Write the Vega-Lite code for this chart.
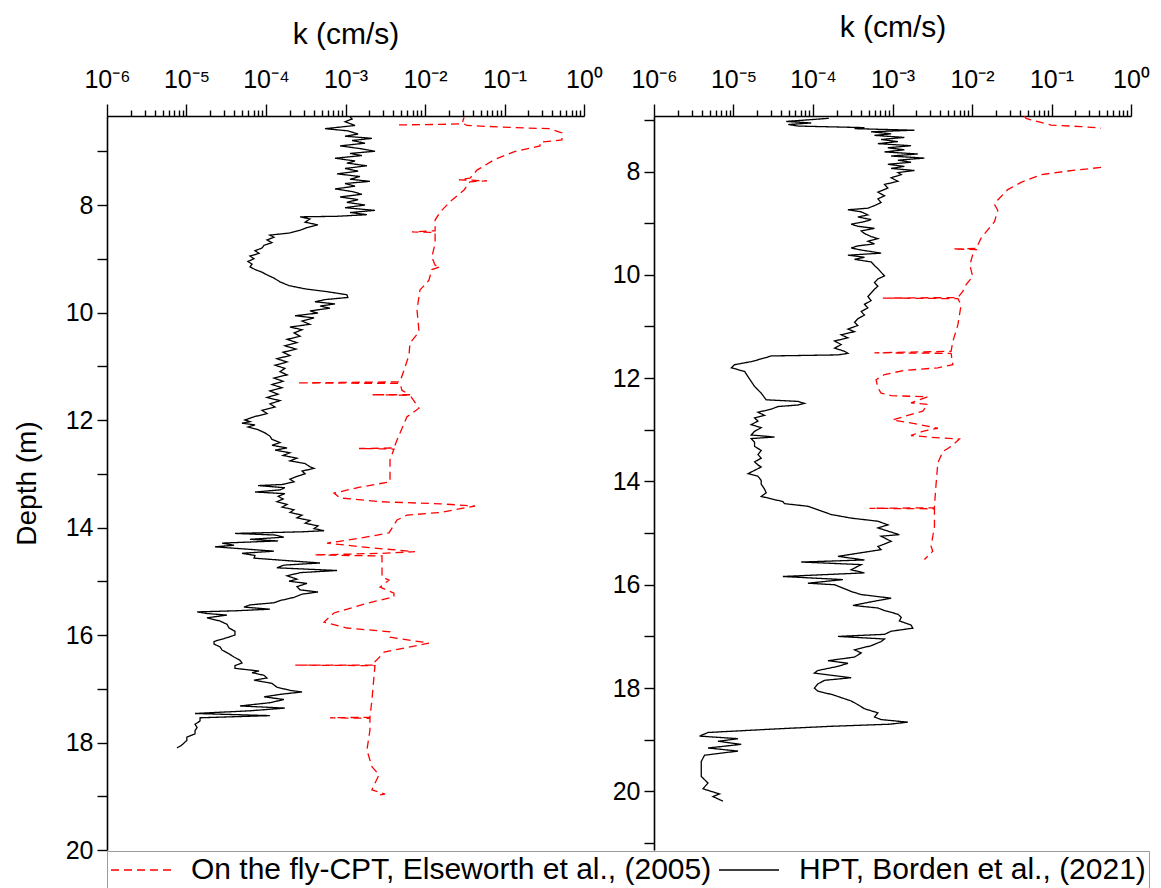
{
  "$schema": "https://vega.github.io/schema/vega-lite/v6.json",
  "background": "white",
  "padding": {"left": 13, "top": 12, "right": 5, "bottom": 0},
  "config": {
    "font": "Liberation Sans",
    "view": {"stroke": null},
    "axis": {"grid": false, "domainColor": "black", "tickColor": "black", "labelColor": "black", "titleColor": "black", "domainWidth": 1.6, "tickWidth": 1.4, "titleFontWeight": "normal", "labelFont": "Liberation Sans", "titleFont": "Liberation Sans"},
    "legend": {"orient": "bottom", "direction": "horizontal", "strokeColor": "#9a9a9a", "padding": 3, "offset": -12, "symbolType": "M-2,0H2", "symbolSize": 900, "symbolOffset": 15, "symbolStrokeWidth": 1.5, "labelFontSize": 30, "labelLimit": 900, "labelOffset": 34, "columnPadding": 4, "labelColor": "black", "labelFont": "Liberation Sans"}
  },
  "data": {"values": [
    {"p":"L","s":"H","d":6.36,"k":1.14e-3},{"p":"L","s":"H","d":6.40,"k":1.21e-3},{"p":"L","s":"H","d":6.45,"k":9.86e-4},{"p":"L","s":"H","d":6.52,"k":1.32e-3},{"p":"L","s":"H","d":6.58,"k":5.52e-4},{"p":"L","s":"H","d":6.62,"k":1.07e-3},{"p":"L","s":"H","d":6.68,"k":1.44e-3},{"p":"L","s":"H","d":6.72,"k":9.86e-4},{"p":"L","s":"H","d":6.76,"k":2.15e-3},{"p":"L","s":"H","d":6.80,"k":1.21e-3},{"p":"L","s":"H","d":6.85,"k":1.76e-3},{"p":"L","s":"H","d":6.90,"k":8.53e-4},{"p":"L","s":"H","d":6.95,"k":1.52e-3},{"p":"L","s":"H","d":7.00,"k":2.35e-3},{"p":"L","s":"H","d":7.04,"k":1.14e-3},{"p":"L","s":"H","d":7.08,"k":1.61e-3},{"p":"L","s":"H","d":7.13,"k":7.38e-4},{"p":"L","s":"H","d":7.18,"k":1.32e-3},{"p":"L","s":"H","d":7.22,"k":1.04e-3},{"p":"L","s":"H","d":7.27,"k":1.86e-3},{"p":"L","s":"H","d":7.32,"k":9.86e-4},{"p":"L","s":"H","d":7.37,"k":1.44e-3},{"p":"L","s":"H","d":7.42,"k":7.82e-4},{"p":"L","s":"H","d":7.47,"k":1.52e-3},{"p":"L","s":"H","d":7.52,"k":1.14e-3},{"p":"L","s":"H","d":7.56,"k":2.03e-3},{"p":"L","s":"H","d":7.60,"k":9.86e-4},{"p":"L","s":"H","d":7.65,"k":1.32e-3},{"p":"L","s":"H","d":7.70,"k":7.38e-4},{"p":"L","s":"H","d":7.75,"k":1.21e-3},{"p":"L","s":"H","d":7.80,"k":1.61e-3},{"p":"L","s":"H","d":7.85,"k":8.53e-4},{"p":"L","s":"H","d":7.90,"k":1.44e-3},{"p":"L","s":"H","d":7.95,"k":1.04e-3},{"p":"L","s":"H","d":8.00,"k":1.76e-3},{"p":"L","s":"H","d":8.05,"k":9.86e-4},{"p":"L","s":"H","d":8.10,"k":2.35e-3},{"p":"L","s":"H","d":8.14,"k":1.14e-3},{"p":"L","s":"H","d":8.18,"k":1.86e-3},{"p":"L","s":"H","d":8.21,"k":7.82e-4},{"p":"L","s":"H","d":8.22,"k":2.68e-4},{"p":"L","s":"H","d":8.26,"k":3.57e-4},{"p":"L","s":"H","d":8.32,"k":3.10e-4},{"p":"L","s":"H","d":8.37,"k":4.51e-4},{"p":"L","s":"H","d":8.42,"k":3.28e-4},{"p":"L","s":"H","d":8.47,"k":2.68e-4},{"p":"L","s":"H","d":8.52,"k":2.00e-4},{"p":"L","s":"H","d":8.56,"k":1.12e-4},{"p":"L","s":"H","d":8.60,"k":1.26e-4},{"p":"L","s":"H","d":8.65,"k":1.03e-4},{"p":"L","s":"H","d":8.70,"k":1.19e-4},{"p":"L","s":"H","d":8.75,"k":9.44e-5},{"p":"L","s":"H","d":8.80,"k":8.91e-5},{"p":"L","s":"H","d":8.85,"k":7.27e-5},{"p":"L","s":"H","d":8.90,"k":8.17e-5},{"p":"L","s":"H","d":8.95,"k":6.29e-5},{"p":"L","s":"H","d":9.00,"k":7.06e-5},{"p":"L","s":"H","d":9.05,"k":5.94e-5},{"p":"L","s":"H","d":9.10,"k":6.67e-5},{"p":"L","s":"H","d":9.15,"k":6.29e-5},{"p":"L","s":"H","d":9.20,"k":7.27e-5},{"p":"L","s":"H","d":9.25,"k":8.91e-5},{"p":"L","s":"H","d":9.30,"k":1.03e-4},{"p":"L","s":"H","d":9.36,"k":1.26e-4},{"p":"L","s":"H","d":9.43,"k":1.50e-4},{"p":"L","s":"H","d":9.50,"k":1.95e-4},{"p":"L","s":"H","d":9.56,"k":3.10e-4},{"p":"L","s":"H","d":9.62,"k":6.38e-4},{"p":"L","s":"H","d":9.67,"k":1.04e-3},{"p":"L","s":"H","d":9.72,"k":1.07e-3},{"p":"L","s":"H","d":9.76,"k":5.52e-4},{"p":"L","s":"H","d":9.80,"k":4.13e-4},{"p":"L","s":"H","d":9.84,"k":7.38e-4},{"p":"L","s":"H","d":9.88,"k":4.78e-4},{"p":"L","s":"H","d":9.92,"k":6.38e-4},{"p":"L","s":"H","d":9.97,"k":3.57e-4},{"p":"L","s":"H","d":10.01,"k":4.51e-4},{"p":"L","s":"H","d":10.06,"k":2.32e-4},{"p":"L","s":"H","d":10.10,"k":4.02e-4},{"p":"L","s":"H","d":10.16,"k":2.84e-4},{"p":"L","s":"H","d":10.22,"k":3.57e-4},{"p":"L","s":"H","d":10.27,"k":2.00e-4},{"p":"L","s":"H","d":10.32,"k":2.84e-4},{"p":"L","s":"H","d":10.38,"k":2.25e-4},{"p":"L","s":"H","d":10.44,"k":2.68e-4},{"p":"L","s":"H","d":10.50,"k":1.84e-4},{"p":"L","s":"H","d":10.56,"k":2.45e-4},{"p":"L","s":"H","d":10.62,"k":1.73e-4},{"p":"L","s":"H","d":10.68,"k":2.38e-4},{"p":"L","s":"H","d":10.74,"k":1.64e-4},{"p":"L","s":"H","d":10.80,"k":2.00e-4},{"p":"L","s":"H","d":10.86,"k":1.37e-4},{"p":"L","s":"H","d":10.92,"k":1.84e-4},{"p":"L","s":"H","d":10.98,"k":1.30e-4},{"p":"L","s":"H","d":11.04,"k":1.73e-4},{"p":"L","s":"H","d":11.10,"k":1.50e-4},{"p":"L","s":"H","d":11.16,"k":1.84e-4},{"p":"L","s":"H","d":11.22,"k":1.26e-4},{"p":"L","s":"H","d":11.28,"k":1.64e-4},{"p":"L","s":"H","d":11.34,"k":1.19e-4},{"p":"L","s":"H","d":11.40,"k":1.59e-4},{"p":"L","s":"H","d":11.46,"k":1.12e-4},{"p":"L","s":"H","d":11.52,"k":1.42e-4},{"p":"L","s":"H","d":11.58,"k":1.03e-4},{"p":"L","s":"H","d":11.64,"k":1.50e-4},{"p":"L","s":"H","d":11.70,"k":1.12e-4},{"p":"L","s":"H","d":11.76,"k":1.30e-4},{"p":"L","s":"H","d":11.82,"k":8.91e-5},{"p":"L","s":"H","d":11.88,"k":1.03e-4},{"p":"L","s":"H","d":11.94,"k":7.06e-5},{"p":"L","s":"H","d":12.00,"k":5.44e-5},{"p":"L","s":"H","d":12.03,"k":6.29e-5},{"p":"L","s":"H","d":12.06,"k":4.99e-5},{"p":"L","s":"H","d":12.09,"k":7.27e-5},{"p":"L","s":"H","d":12.13,"k":5.94e-5},{"p":"L","s":"H","d":12.18,"k":7.93e-5},{"p":"L","s":"H","d":12.24,"k":9.71e-5},{"p":"L","s":"H","d":12.30,"k":1.12e-4},{"p":"L","s":"H","d":12.36,"k":1.19e-4},{"p":"L","s":"H","d":12.42,"k":1.50e-4},{"p":"L","s":"H","d":12.47,"k":1.19e-4},{"p":"L","s":"H","d":12.52,"k":1.84e-4},{"p":"L","s":"H","d":12.56,"k":1.30e-4},{"p":"L","s":"H","d":12.61,"k":2.00e-4},{"p":"L","s":"H","d":12.66,"k":1.64e-4},{"p":"L","s":"H","d":12.71,"k":2.45e-4},{"p":"L","s":"H","d":12.76,"k":2.00e-4},{"p":"L","s":"H","d":12.81,"k":3.10e-4},{"p":"L","s":"H","d":12.87,"k":3.57e-4},{"p":"L","s":"H","d":12.90,"k":4.02e-4},{"p":"L","s":"H","d":12.95,"k":2.84e-4},{"p":"L","s":"H","d":13.00,"k":3.10e-4},{"p":"L","s":"H","d":13.05,"k":2.45e-4},{"p":"L","s":"H","d":13.10,"k":2.00e-4},{"p":"L","s":"H","d":13.15,"k":2.25e-4},{"p":"L","s":"H","d":13.20,"k":1.59e-4},{"p":"L","s":"H","d":13.22,"k":7.93e-5},{"p":"L","s":"H","d":13.26,"k":1.73e-4},{"p":"L","s":"H","d":13.30,"k":1.50e-4},{"p":"L","s":"H","d":13.34,"k":7.27e-5},{"p":"L","s":"H","d":13.37,"k":1.73e-4},{"p":"L","s":"H","d":13.42,"k":1.42e-4},{"p":"L","s":"H","d":13.47,"k":1.64e-4},{"p":"L","s":"H","d":13.52,"k":1.37e-4},{"p":"L","s":"H","d":13.57,"k":1.84e-4},{"p":"L","s":"H","d":13.62,"k":1.59e-4},{"p":"L","s":"H","d":13.67,"k":2.25e-4},{"p":"L","s":"H","d":13.72,"k":2.00e-4},{"p":"L","s":"H","d":13.77,"k":2.84e-4},{"p":"L","s":"H","d":13.82,"k":2.45e-4},{"p":"L","s":"H","d":13.87,"k":3.57e-4},{"p":"L","s":"H","d":13.92,"k":3.10e-4},{"p":"L","s":"H","d":13.97,"k":4.51e-4},{"p":"L","s":"H","d":14.02,"k":4.02e-4},{"p":"L","s":"H","d":14.06,"k":5.37e-4},{"p":"L","s":"H","d":14.08,"k":2.84e-4},{"p":"L","s":"H","d":14.11,"k":4.07e-5},{"p":"L","s":"H","d":14.14,"k":1.30e-4},{"p":"L","s":"H","d":14.18,"k":1.68e-4},{"p":"L","s":"H","d":14.22,"k":6.29e-5},{"p":"L","s":"H","d":14.25,"k":1.42e-4},{"p":"L","s":"H","d":14.29,"k":2.80e-5},{"p":"L","s":"H","d":14.33,"k":3.96e-5},{"p":"L","s":"H","d":14.36,"k":2.28e-5},{"p":"L","s":"H","d":14.40,"k":5.44e-5},{"p":"L","s":"H","d":14.44,"k":1.26e-4},{"p":"L","s":"H","d":14.48,"k":4.99e-5},{"p":"L","s":"H","d":14.52,"k":7.27e-5},{"p":"L","s":"H","d":14.57,"k":7.06e-5},{"p":"L","s":"H","d":14.62,"k":2.00e-4},{"p":"L","s":"H","d":14.66,"k":4.78e-4},{"p":"L","s":"H","d":14.70,"k":1.68e-4},{"p":"L","s":"H","d":14.75,"k":1.37e-4},{"p":"L","s":"H","d":14.80,"k":7.82e-4},{"p":"L","s":"H","d":14.84,"k":2.68e-4},{"p":"L","s":"H","d":14.90,"k":1.84e-4},{"p":"L","s":"H","d":14.96,"k":2.45e-4},{"p":"L","s":"H","d":15.00,"k":1.95e-4},{"p":"L","s":"H","d":15.04,"k":3.28e-4},{"p":"L","s":"H","d":15.10,"k":2.45e-4},{"p":"L","s":"H","d":15.16,"k":2.68e-4},{"p":"L","s":"H","d":15.20,"k":4.51e-4},{"p":"L","s":"H","d":15.24,"k":2.84e-4},{"p":"L","s":"H","d":15.30,"k":2.25e-4},{"p":"L","s":"H","d":15.36,"k":1.50e-4},{"p":"L","s":"H","d":15.40,"k":1.26e-4},{"p":"L","s":"H","d":15.44,"k":6.29e-5},{"p":"L","s":"H","d":15.48,"k":5.28e-5},{"p":"L","s":"H","d":15.52,"k":1.12e-4},{"p":"L","s":"H","d":15.55,"k":4.07e-5},{"p":"L","s":"H","d":15.57,"k":1.36e-5},{"p":"L","s":"H","d":15.60,"k":1.81e-5},{"p":"L","s":"H","d":15.63,"k":3.23e-5},{"p":"L","s":"H","d":15.68,"k":1.81e-5},{"p":"L","s":"H","d":15.74,"k":2.64e-5},{"p":"L","s":"H","d":15.80,"k":3.23e-5},{"p":"L","s":"H","d":15.87,"k":3.43e-5},{"p":"L","s":"H","d":15.93,"k":4.07e-5},{"p":"L","s":"H","d":16.00,"k":4.07e-5},{"p":"L","s":"H","d":16.05,"k":3.23e-5},{"p":"L","s":"H","d":16.12,"k":2.22e-5},{"p":"L","s":"H","d":16.17,"k":2.22e-5},{"p":"L","s":"H","d":16.22,"k":2.64e-5},{"p":"L","s":"H","d":16.28,"k":2.80e-5},{"p":"L","s":"H","d":16.35,"k":3.43e-5},{"p":"L","s":"H","d":16.41,"k":3.96e-5},{"p":"L","s":"H","d":16.47,"k":4.71e-5},{"p":"L","s":"H","d":16.52,"k":4.99e-5},{"p":"L","s":"H","d":16.57,"k":4.07e-5},{"p":"L","s":"H","d":16.62,"k":4.07e-5},{"p":"L","s":"H","d":16.67,"k":8.17e-5},{"p":"L","s":"H","d":16.70,"k":6.67e-5},{"p":"L","s":"H","d":16.75,"k":9.44e-5},{"p":"L","s":"H","d":16.80,"k":1.03e-4},{"p":"L","s":"H","d":16.84,"k":7.06e-5},{"p":"L","s":"H","d":16.90,"k":1.19e-4},{"p":"L","s":"H","d":16.97,"k":1.37e-4},{"p":"L","s":"H","d":17.03,"k":2.00e-4},{"p":"L","s":"H","d":17.06,"k":2.84e-4},{"p":"L","s":"H","d":17.10,"k":1.59e-4},{"p":"L","s":"H","d":17.15,"k":9.44e-5},{"p":"L","s":"H","d":17.20,"k":1.68e-4},{"p":"L","s":"H","d":17.26,"k":1.12e-4},{"p":"L","s":"H","d":17.32,"k":4.71e-5},{"p":"L","s":"H","d":17.36,"k":1.73e-4},{"p":"L","s":"H","d":17.41,"k":6.29e-5},{"p":"L","s":"H","d":17.46,"k":1.28e-5},{"p":"L","s":"H","d":17.50,"k":1.12e-4},{"p":"L","s":"H","d":17.54,"k":1.48e-5},{"p":"L","s":"H","d":17.60,"k":1.48e-5},{"p":"L","s":"H","d":17.66,"k":1.28e-5},{"p":"L","s":"H","d":17.72,"k":1.36e-5},{"p":"L","s":"H","d":17.78,"k":1.28e-5},{"p":"L","s":"H","d":17.84,"k":1.28e-5},{"p":"L","s":"H","d":17.90,"k":1.01e-5},{"p":"L","s":"H","d":17.96,"k":1.01e-5},{"p":"L","s":"H","d":18.01,"k":9.31e-6},{"p":"L","s":"H","d":18.06,"k":8.50e-6},{"p":"L","s":"H","d":18.10,"k":7.59e-6},

    {"p":"L","s":"C","d":6.51,"k":4.71e-3},{"p":"L","s":"C","d":6.50,"k":1.55e-2},{"p":"L","s":"C","d":6.49,"k":2.92e-2},{"p":"L","s":"C","d":6.37,"k":3.10e-2},{"p":"L","s":"C","d":6.47,"k":2.92e-2},{"p":"L","s":"C","d":6.52,"k":3.37e-2},{"p":"L","s":"C","d":6.56,"k":1.31e-1},{"p":"L","s":"C","d":6.58,"k":3.73e-1},{"p":"L","s":"C","d":6.66,"k":5.28e-1},{"p":"L","s":"C","d":6.79,"k":5.28e-1},{"p":"L","s":"C","d":6.83,"k":2.80e-1},{"p":"L","s":"C","d":6.90,"k":2.80e-1},{"p":"L","s":"C","d":7.01,"k":1.31e-1},{"p":"L","s":"C","d":7.16,"k":7.38e-2},{"p":"L","s":"C","d":7.35,"k":4.51e-2},{"p":"L","s":"C","d":7.50,"k":3.68e-2},{"p":"L","s":"C","d":7.53,"k":2.68e-2},{"p":"L","s":"C","d":7.55,"k":6.03e-2},{"p":"L","s":"C","d":7.57,"k":3.68e-2},{"p":"L","s":"C","d":7.72,"k":3.10e-2},{"p":"L","s":"C","d":7.94,"k":2.06e-2},{"p":"L","s":"C","d":8.13,"k":1.55e-2},{"p":"L","s":"C","d":8.28,"k":1.34e-2},{"p":"L","s":"C","d":8.48,"k":1.34e-2},{"p":"L","s":"C","d":8.50,"k":6.86e-3},{"p":"L","s":"C","d":8.51,"k":1.34e-2},{"p":"L","s":"C","d":8.71,"k":1.34e-2},{"p":"L","s":"C","d":8.97,"k":1.22e-2},{"p":"L","s":"C","d":9.12,"k":1.34e-2},{"p":"L","s":"C","d":9.15,"k":1.55e-2},{"p":"L","s":"C","d":9.20,"k":1.22e-2},{"p":"L","s":"C","d":9.40,"k":1.12e-2},{"p":"L","s":"C","d":9.58,"k":8.65e-3},{"p":"L","s":"C","d":9.95,"k":7.93e-3},{"p":"L","s":"C","d":10.36,"k":8.41e-3},{"p":"L","s":"C","d":10.57,"k":6.47e-3},{"p":"L","s":"C","d":10.79,"k":6.29e-3},{"p":"L","s":"C","d":11.07,"k":5.45e-3},{"p":"L","s":"C","d":11.29,"k":4.85e-3},{"p":"L","s":"C","d":11.31,"k":2.45e-4},{"p":"L","s":"C","d":11.32,"k":4.85e-3},{"p":"L","s":"C","d":11.45,"k":5.14e-3},{"p":"L","s":"C","d":11.53,"k":6.47e-3},{"p":"L","s":"C","d":11.53,"k":2.15e-3},{"p":"L","s":"C","d":11.54,"k":6.47e-3},{"p":"L","s":"C","d":11.78,"k":8.41e-3},{"p":"L","s":"C","d":11.94,"k":5.94e-3},{"p":"L","s":"C","d":12.37,"k":4.45e-3},{"p":"L","s":"C","d":12.52,"k":4.07e-3},{"p":"L","s":"C","d":12.53,"k":1.48e-3},{"p":"L","s":"C","d":12.54,"k":4.07e-3},{"p":"L","s":"C","d":12.74,"k":3.63e-3},{"p":"L","s":"C","d":13.15,"k":3.63e-3},{"p":"L","s":"C","d":13.25,"k":1.52e-3},{"p":"L","s":"C","d":13.36,"k":7.16e-4},{"p":"L","s":"C","d":13.45,"k":8.53e-4},{"p":"L","s":"C","d":13.52,"k":2.72e-3},{"p":"L","s":"C","d":13.56,"k":1.55e-2},{"p":"L","s":"C","d":13.60,"k":4.26e-2},{"p":"L","s":"C","d":13.72,"k":1.55e-2},{"p":"L","s":"C","d":13.77,"k":5.94e-3},{"p":"L","s":"C","d":13.86,"k":4.45e-3},{"p":"L","s":"C","d":14.10,"k":3.52e-3},{"p":"L","s":"C","d":14.20,"k":1.52e-3},{"p":"L","s":"C","d":14.29,"k":5.85e-4},{"p":"L","s":"C","d":14.37,"k":1.86e-3},{"p":"L","s":"C","d":14.45,"k":7.48e-3},{"p":"L","s":"C","d":14.48,"k":2.88e-3},{"p":"L","s":"C","d":14.51,"k":4.02e-4},{"p":"L","s":"C","d":14.53,"k":2.88e-3},{"p":"L","s":"C","d":14.92,"k":2.88e-3},{"p":"L","s":"C","d":14.98,"k":3.52e-3},{"p":"L","s":"C","d":15.11,"k":2.72e-3},{"p":"L","s":"C","d":15.22,"k":4.07e-3},{"p":"L","s":"C","d":15.29,"k":4.07e-3},{"p":"L","s":"C","d":15.41,"k":1.86e-3},{"p":"L","s":"C","d":15.59,"k":7.16e-4},{"p":"L","s":"C","d":15.76,"k":5.37e-4},{"p":"L","s":"C","d":15.87,"k":1.04e-3},{"p":"L","s":"C","d":15.94,"k":3.63e-3},{"p":"L","s":"C","d":16.04,"k":3.63e-3},{"p":"L","s":"C","d":16.15,"k":1.12e-2},{"p":"L","s":"C","d":16.32,"k":3.05e-3},{"p":"L","s":"C","d":16.50,"k":2.35e-3},{"p":"L","s":"C","d":16.56,"k":2.35e-3},{"p":"L","s":"C","d":16.56,"k":2.32e-4},{"p":"L","s":"C","d":16.57,"k":2.35e-3},{"p":"L","s":"C","d":16.78,"k":2.28e-3},{"p":"L","s":"C","d":17.21,"k":2.15e-3},{"p":"L","s":"C","d":17.53,"k":2.03e-3},{"p":"L","s":"C","d":17.54,"k":6.38e-4},{"p":"L","s":"C","d":17.55,"k":2.03e-3},{"p":"L","s":"C","d":17.77,"k":2.03e-3},{"p":"L","s":"C","d":18.14,"k":1.86e-3},{"p":"L","s":"C","d":18.45,"k":2.15e-3},{"p":"L","s":"C","d":18.60,"k":2.64e-3},{"p":"L","s":"C","d":18.88,"k":2.15e-3},{"p":"L","s":"C","d":18.96,"k":3.14e-3},{"p":"L","s":"C","d":18.99,"k":2.35e-3},

    {"p":"R","s":"H","d":6.97,"k":1.58e-4},{"p":"R","s":"H","d":7.00,"k":8.6e-5},{"p":"R","s":"H","d":7.03,"k":4.6e-5},{"p":"R","s":"H","d":7.06,"k":9.5e-5},{"p":"R","s":"H","d":7.09,"k":4.9e-5},{"p":"R","s":"H","d":7.12,"k":6.5e-5},{"p":"R","s":"H","d":7.15,"k":4.44e-4},{"p":"R","s":"H","d":7.17,"k":3.33e-4},{"p":"R","s":"H","d":7.20,"k":1.89e-3},{"p":"R","s":"H","d":7.23,"k":5.39e-4},{"p":"R","s":"H","d":7.27,"k":9.62e-4},{"p":"R","s":"H","d":7.30,"k":5.93e-4},{"p":"R","s":"H","d":7.34,"k":1.41e-3},{"p":"R","s":"H","d":7.38,"k":7.19e-4},{"p":"R","s":"H","d":7.42,"k":1.17e-3},{"p":"R","s":"H","d":7.46,"k":6.55e-4},{"p":"R","s":"H","d":7.50,"k":1.71e-3},{"p":"R","s":"H","d":7.54,"k":8.74e-4},{"p":"R","s":"H","d":7.58,"k":1.41e-3},{"p":"R","s":"H","d":7.62,"k":7.93e-4},{"p":"R","s":"H","d":7.66,"k":2.08e-3},{"p":"R","s":"H","d":7.70,"k":9.62e-4},{"p":"R","s":"H","d":7.74,"k":2.52e-3},{"p":"R","s":"H","d":7.78,"k":1.17e-3},{"p":"R","s":"H","d":7.82,"k":1.71e-3},{"p":"R","s":"H","d":7.86,"k":8.74e-4},{"p":"R","s":"H","d":7.90,"k":1.41e-3},{"p":"R","s":"H","d":7.94,"k":9.62e-4},{"p":"R","s":"H","d":7.98,"k":1.89e-3},{"p":"R","s":"H","d":8.02,"k":1.17e-3},{"p":"R","s":"H","d":8.06,"k":1.29e-3},{"p":"R","s":"H","d":8.12,"k":9.62e-4},{"p":"R","s":"H","d":8.19,"k":1.17e-3},{"p":"R","s":"H","d":8.25,"k":7.93e-4},{"p":"R","s":"H","d":8.32,"k":8.74e-4},{"p":"R","s":"H","d":8.40,"k":6.55e-4},{"p":"R","s":"H","d":8.47,"k":7.93e-4},{"p":"R","s":"H","d":8.53,"k":6.55e-4},{"p":"R","s":"H","d":8.60,"k":7.19e-4},{"p":"R","s":"H","d":8.66,"k":5.93e-4},{"p":"R","s":"H","d":8.71,"k":4.90e-4},{"p":"R","s":"H","d":8.74,"k":2.75e-4},{"p":"R","s":"H","d":8.78,"k":4.04e-4},{"p":"R","s":"H","d":8.84,"k":4.90e-4},{"p":"R","s":"H","d":8.88,"k":3.66e-4},{"p":"R","s":"H","d":8.93,"k":5.39e-4},{"p":"R","s":"H","d":8.97,"k":4.44e-4},{"p":"R","s":"H","d":9.02,"k":3.02e-4},{"p":"R","s":"H","d":9.06,"k":3.66e-4},{"p":"R","s":"H","d":9.10,"k":5.93e-4},{"p":"R","s":"H","d":9.15,"k":4.04e-4},{"p":"R","s":"H","d":9.20,"k":4.44e-4},{"p":"R","s":"H","d":9.26,"k":5.39e-4},{"p":"R","s":"H","d":9.30,"k":6.55e-4},{"p":"R","s":"H","d":9.35,"k":4.90e-4},{"p":"R","s":"H","d":9.40,"k":5.93e-4},{"p":"R","s":"H","d":9.44,"k":3.66e-4},{"p":"R","s":"H","d":9.48,"k":3.02e-4},{"p":"R","s":"H","d":9.52,"k":4.04e-4},{"p":"R","s":"H","d":9.58,"k":7.19e-4},{"p":"R","s":"H","d":9.62,"k":2.75e-4},{"p":"R","s":"H","d":9.66,"k":4.44e-4},{"p":"R","s":"H","d":9.70,"k":3.33e-4},{"p":"R","s":"H","d":9.75,"k":5.39e-4},{"p":"R","s":"H","d":9.82,"k":5.93e-4},{"p":"R","s":"H","d":9.88,"k":6.55e-4},{"p":"R","s":"H","d":9.95,"k":7.19e-4},{"p":"R","s":"H","d":10.02,"k":7.93e-4},{"p":"R","s":"H","d":10.08,"k":6.55e-4},{"p":"R","s":"H","d":10.15,"k":5.93e-4},{"p":"R","s":"H","d":10.22,"k":6.55e-4},{"p":"R","s":"H","d":10.28,"k":5.93e-4},{"p":"R","s":"H","d":10.35,"k":5.39e-4},{"p":"R","s":"H","d":10.42,"k":4.90e-4},{"p":"R","s":"H","d":10.50,"k":5.39e-4},{"p":"R","s":"H","d":10.57,"k":4.44e-4},{"p":"R","s":"H","d":10.64,"k":4.90e-4},{"p":"R","s":"H","d":10.71,"k":4.04e-4},{"p":"R","s":"H","d":10.78,"k":4.44e-4},{"p":"R","s":"H","d":10.85,"k":3.66e-4},{"p":"R","s":"H","d":10.92,"k":3.33e-4},{"p":"R","s":"H","d":10.98,"k":3.66e-4},{"p":"R","s":"H","d":11.05,"k":2.75e-4},{"p":"R","s":"H","d":11.10,"k":3.33e-4},{"p":"R","s":"H","d":11.16,"k":2.26e-4},{"p":"R","s":"H","d":11.22,"k":2.75e-4},{"p":"R","s":"H","d":11.28,"k":1.87e-4},{"p":"R","s":"H","d":11.35,"k":2.26e-4},{"p":"R","s":"H","d":11.42,"k":1.87e-4},{"p":"R","s":"H","d":11.48,"k":2.49e-4},{"p":"R","s":"H","d":11.52,"k":2.75e-4},{"p":"R","s":"H","d":11.55,"k":2.06e-4},{"p":"R","s":"H","d":11.57,"k":2.99e-5},{"p":"R","s":"H","d":11.61,"k":2.46e-5},{"p":"R","s":"H","d":11.68,"k":1.67e-5},{"p":"R","s":"H","d":11.74,"k":1.03e-5},{"p":"R","s":"H","d":11.80,"k":9.38e-6},{"p":"R","s":"H","d":11.87,"k":1.38e-5},{"p":"R","s":"H","d":11.97,"k":1.52e-5},{"p":"R","s":"H","d":12.16,"k":1.84e-5},{"p":"R","s":"H","d":12.29,"k":2.23e-5},{"p":"R","s":"H","d":12.42,"k":2.58e-5},{"p":"R","s":"H","d":12.45,"k":6.46e-5},{"p":"R","s":"H","d":12.49,"k":7.82e-5},{"p":"R","s":"H","d":12.52,"k":6.46e-5},{"p":"R","s":"H","d":12.55,"k":3.62e-5},{"p":"R","s":"H","d":12.60,"k":2.99e-5},{"p":"R","s":"H","d":12.66,"k":2.03e-5},{"p":"R","s":"H","d":12.72,"k":2.46e-5},{"p":"R","s":"H","d":12.77,"k":1.84e-5},{"p":"R","s":"H","d":12.83,"k":2.03e-5},{"p":"R","s":"H","d":12.90,"k":1.67e-5},{"p":"R","s":"H","d":12.96,"k":2.23e-5},{"p":"R","s":"H","d":13.03,"k":1.84e-5},{"p":"R","s":"H","d":13.10,"k":1.67e-5},{"p":"R","s":"H","d":13.14,"k":3.28e-5},{"p":"R","s":"H","d":13.17,"k":1.67e-5},{"p":"R","s":"H","d":13.24,"k":1.84e-5},{"p":"R","s":"H","d":13.32,"k":1.84e-5},{"p":"R","s":"H","d":13.40,"k":2.23e-5},{"p":"R","s":"H","d":13.48,"k":2.03e-5},{"p":"R","s":"H","d":13.55,"k":2.23e-5},{"p":"R","s":"H","d":13.62,"k":1.84e-5},{"p":"R","s":"H","d":13.68,"k":2.03e-5},{"p":"R","s":"H","d":13.72,"k":2.23e-5},{"p":"R","s":"H","d":13.85,"k":1.52e-5},{"p":"R","s":"H","d":13.90,"k":2.03e-5},{"p":"R","s":"H","d":13.98,"k":2.23e-5},{"p":"R","s":"H","d":14.05,"k":2.23e-5},{"p":"R","s":"H","d":14.15,"k":2.46e-5},{"p":"R","s":"H","d":14.22,"k":2.58e-5},{"p":"R","s":"H","d":14.29,"k":2.23e-5},{"p":"R","s":"H","d":14.39,"k":4.18e-5},{"p":"R","s":"H","d":14.43,"k":4.39e-5},{"p":"R","s":"H","d":14.48,"k":8.63e-5},{"p":"R","s":"H","d":14.64,"k":1.69e-4},{"p":"R","s":"H","d":14.71,"k":3.02e-4},{"p":"R","s":"H","d":14.77,"k":6.55e-4},{"p":"R","s":"H","d":14.84,"k":8.74e-4},{"p":"R","s":"H","d":14.90,"k":6.55e-4},{"p":"R","s":"H","d":15.03,"k":1.22e-3},{"p":"R","s":"H","d":15.06,"k":7.19e-4},{"p":"R","s":"H","d":15.16,"k":9.62e-4},{"p":"R","s":"H","d":15.26,"k":6.55e-4},{"p":"R","s":"H","d":15.32,"k":7.19e-4},{"p":"R","s":"H","d":15.45,"k":2.06e-4},{"p":"R","s":"H","d":15.52,"k":4.44e-4},{"p":"R","s":"H","d":15.56,"k":7.11e-5},{"p":"R","s":"H","d":15.61,"k":4.04e-4},{"p":"R","s":"H","d":15.71,"k":3.02e-4},{"p":"R","s":"H","d":15.77,"k":4.44e-4},{"p":"R","s":"H","d":15.84,"k":4.18e-5},{"p":"R","s":"H","d":15.90,"k":2.38e-4},{"p":"R","s":"H","d":15.97,"k":8.63e-5},{"p":"R","s":"H","d":16.00,"k":1.87e-4},{"p":"R","s":"H","d":16.13,"k":3.02e-4},{"p":"R","s":"H","d":16.19,"k":4.04e-4},{"p":"R","s":"H","d":16.26,"k":9.62e-4},{"p":"R","s":"H","d":16.33,"k":5.39e-4},{"p":"R","s":"H","d":16.40,"k":3.18e-4},{"p":"R","s":"H","d":16.45,"k":6.55e-4},{"p":"R","s":"H","d":16.50,"k":7.93e-4},{"p":"R","s":"H","d":16.57,"k":1.17e-3},{"p":"R","s":"H","d":16.63,"k":1.29e-3},{"p":"R","s":"H","d":16.70,"k":1.22e-3},{"p":"R","s":"H","d":16.78,"k":1.71e-3},{"p":"R","s":"H","d":16.84,"k":1.80e-3},{"p":"R","s":"H","d":16.90,"k":9.62e-4},{"p":"R","s":"H","d":16.96,"k":7.93e-4},{"p":"R","s":"H","d":17.00,"k":2.06e-4},{"p":"R","s":"H","d":17.05,"k":7.93e-4},{"p":"R","s":"H","d":17.10,"k":7.19e-4},{"p":"R","s":"H","d":17.18,"k":5.39e-4},{"p":"R","s":"H","d":17.26,"k":3.33e-4},{"p":"R","s":"H","d":17.32,"k":4.04e-4},{"p":"R","s":"H","d":17.40,"k":3.33e-4},{"p":"R","s":"H","d":17.47,"k":1.54e-4},{"p":"R","s":"H","d":17.52,"k":2.75e-4},{"p":"R","s":"H","d":17.58,"k":2.06e-4},{"p":"R","s":"H","d":17.66,"k":1.15e-4},{"p":"R","s":"H","d":17.71,"k":1.04e-4},{"p":"R","s":"H","d":17.80,"k":3.02e-4},{"p":"R","s":"H","d":17.85,"k":1.40e-4},{"p":"R","s":"H","d":17.92,"k":1.15e-4},{"p":"R","s":"H","d":18.00,"k":1.04e-4},{"p":"R","s":"H","d":18.06,"k":1.15e-4},{"p":"R","s":"H","d":18.13,"k":1.78e-4},{"p":"R","s":"H","d":18.25,"k":3.02e-4},{"p":"R","s":"H","d":18.32,"k":3.66e-4},{"p":"R","s":"H","d":18.40,"k":4.44e-4},{"p":"R","s":"H","d":18.48,"k":6.55e-4},{"p":"R","s":"H","d":18.56,"k":5.93e-4},{"p":"R","s":"H","d":18.61,"k":7.19e-4},{"p":"R","s":"H","d":18.66,"k":1.56e-3},{"p":"R","s":"H","d":18.70,"k":9.16e-4},{"p":"R","s":"H","d":18.74,"k":1.69e-4},{"p":"R","s":"H","d":18.79,"k":3.5e-5},{"p":"R","s":"H","d":18.82,"k":1.5e-5},{"p":"R","s":"H","d":18.86,"k":4.78e-6},{"p":"R","s":"H","d":18.93,"k":3.74e-6},{"p":"R","s":"H","d":18.98,"k":1.14e-5},{"p":"R","s":"H","d":19.03,"k":6.38e-6},{"p":"R","s":"H","d":19.09,"k":1.25e-5},{"p":"R","s":"H","d":19.16,"k":4.78e-6},{"p":"R","s":"H","d":19.22,"k":1.14e-5},{"p":"R","s":"H","d":19.30,"k":4.33e-6},{"p":"R","s":"H","d":19.42,"k":3.93e-6},{"p":"R","s":"H","d":19.55,"k":3.93e-6},{"p":"R","s":"H","d":19.71,"k":3.93e-6},{"p":"R","s":"H","d":19.84,"k":4.78e-6},{"p":"R","s":"H","d":19.95,"k":4.13e-6},{"p":"R","s":"H","d":20.05,"k":6.68e-6},{"p":"R","s":"H","d":20.10,"k":5.5e-6},{"p":"R","s":"H","d":20.19,"k":7.36e-6},

    {"p":"R","s":"C","g":"a","d":6.93,"k":4.56e-2},{"p":"R","s":"C","g":"a","d":6.97,"k":4.8e-2},{"p":"R","s":"C","g":"a","d":7.00,"k":5.53e-2},{"p":"R","s":"C","g":"a","d":7.10,"k":9.86e-2},{"p":"R","s":"C","g":"a","d":7.13,"k":2.36e-1},{"p":"R","s":"C","g":"a","d":7.16,"k":4.20e-1},
    {"p":"R","s":"C","g":"b","d":7.92,"k":4.20e-1},{"p":"R","s":"C","g":"b","d":7.99,"k":1.60e-1},{"p":"R","s":"C","g":"b","d":8.06,"k":7.40e-2},{"p":"R","s":"C","g":"b","d":8.21,"k":4.14e-2},{"p":"R","s":"C","g":"b","d":8.35,"k":2.82e-2},{"p":"R","s":"C","g":"b","d":8.55,"k":2.11e-2},{"p":"R","s":"C","g":"b","d":8.64,"k":1.92e-2},{"p":"R","s":"C","g":"b","d":8.75,"k":2.11e-2},{"p":"R","s":"C","g":"b","d":8.97,"k":1.92e-2},{"p":"R","s":"C","g":"b","d":9.13,"k":1.58e-2},{"p":"R","s":"C","g":"b","d":9.29,"k":1.30e-2},{"p":"R","s":"C","g":"b","d":9.49,"k":1.13e-2},{"p":"R","s":"C","g":"b","d":9.50,"k":5.74e-3},{"p":"R","s":"C","g":"b","d":9.51,"k":1.13e-2},{"p":"R","s":"C","g":"b","d":9.61,"k":1.02e-2},{"p":"R","s":"C","g":"b","d":9.81,"k":9.40e-3},{"p":"R","s":"C","g":"b","d":10.03,"k":1.02e-2},{"p":"R","s":"C","g":"b","d":10.19,"k":8.43e-3},{"p":"R","s":"C","g":"b","d":10.32,"k":7.66e-3},{"p":"R","s":"C","g":"b","d":10.44,"k":6.64e-3},{"p":"R","s":"C","g":"b","d":10.45,"k":7.57e-4},{"p":"R","s":"C","g":"b","d":10.46,"k":6.64e-3},{"p":"R","s":"C","g":"b","d":10.58,"k":7.29e-3},{"p":"R","s":"C","g":"b","d":10.97,"k":6.64e-3},{"p":"R","s":"C","g":"b","d":11.29,"k":5.74e-3},{"p":"R","s":"C","g":"b","d":11.48,"k":5.46e-3},{"p":"R","s":"C","g":"b","d":11.51,"k":5.93e-4},{"p":"R","s":"C","g":"b","d":11.52,"k":5.46e-3},{"p":"R","s":"C","g":"b","d":11.74,"k":5.74e-3},{"p":"R","s":"C","g":"b","d":11.80,"k":3.72e-3},{"p":"R","s":"C","g":"b","d":11.85,"k":1.41e-3},{"p":"R","s":"C","g":"b","d":11.93,"k":7.93e-4},{"p":"R","s":"C","g":"b","d":12.03,"k":6.22e-4},{"p":"R","s":"C","g":"b","d":12.19,"k":6.55e-4},{"p":"R","s":"C","g":"b","d":12.29,"k":7.19e-4},{"p":"R","s":"C","g":"b","d":12.34,"k":9.62e-4},{"p":"R","s":"C","g":"b","d":12.36,"k":2.78e-3},{"p":"R","s":"C","g":"b","d":12.48,"k":1.71e-3},{"p":"R","s":"C","g":"b","d":12.51,"k":2.78e-3},{"p":"R","s":"C","g":"b","d":12.64,"k":2.40e-3},{"p":"R","s":"C","g":"b","d":12.72,"k":1.56e-3},{"p":"R","s":"C","g":"b","d":12.81,"k":1.00e-3},{"p":"R","s":"C","g":"b","d":12.88,"k":1.89e-3},{"p":"R","s":"C","g":"b","d":12.97,"k":3.72e-3},{"p":"R","s":"C","g":"b","d":13.03,"k":2.40e-3},{"p":"R","s":"C","g":"b","d":13.11,"k":1.71e-3},{"p":"R","s":"C","g":"b","d":13.14,"k":2.78e-3},{"p":"R","s":"C","g":"b","d":13.18,"k":6.95e-3},{"p":"R","s":"C","g":"b","d":13.32,"k":5.46e-3},{"p":"R","s":"C","g":"b","d":13.42,"k":4.30e-3},{"p":"R","s":"C","g":"b","d":13.64,"k":3.72e-3},{"p":"R","s":"C","g":"b","d":14.03,"k":3.54e-3},{"p":"R","s":"C","g":"b","d":14.48,"k":3.37e-3},{"p":"R","s":"C","g":"b","d":14.51,"k":3.37e-3},{"p":"R","s":"C","g":"b","d":14.52,"k":5.13e-4},{"p":"R","s":"C","g":"b","d":14.53,"k":3.37e-3},{"p":"R","s":"C","g":"b","d":14.87,"k":3.37e-3},{"p":"R","s":"C","g":"b","d":15.26,"k":3.06e-3},{"p":"R","s":"C","g":"b","d":15.35,"k":3.21e-3},{"p":"R","s":"C","g":"b","d":15.51,"k":2.52e-3}
  ]},
  "columns": 2,
  "align": "none",
  "spacing": 9,
  "concat": [
    {
      "width": 477, "height": 734,
      "transform": [{"filter": "datum.p == 'L'"}],
      "mark": {"type": "line", "strokeWidth": 1.3, "clip": true},
      "encoding": {
        "x": {"field": "k", "type": "quantitative",
          "scale": {"type": "log", "domain": [1e-6, 1], "nice": false},
          "axis": {"orient": "top", "title": "k (cm/s)", "titleFontSize": 30, "titlePadding": 18, "labelFontSize": 25, "labelPadding": 12, "labelFlush": false, "labelOverlap": false, "labelBound": false,
            "values": [1e-6,2e-6,3e-6,4e-6,5e-6,6e-6,7e-6,8e-6,9e-6,1e-5,2e-5,3e-5,4e-5,5e-5,6e-5,7e-5,8e-5,9e-5,1e-4,2e-4,3e-4,4e-4,5e-4,6e-4,7e-4,8e-4,9e-4,1e-3,2e-3,3e-3,4e-3,5e-3,6e-3,7e-3,8e-3,9e-3,1e-2,2e-2,3e-2,4e-2,5e-2,6e-2,7e-2,8e-2,9e-2,0.1,0.2,0.3,0.4,0.5,0.6,0.7,0.8,0.9,1],
            "tickSize": {"condition": {"test": "abs(log(datum.value)/LN10 - round(log(datum.value)/LN10)) < 0.001", "value": 12}, "value": 6},
            "labelExpr": "abs(log(datum.value)/LN10 - round(log(datum.value)/LN10)) < 0.001 ? '10' + (round(log(datum.value)/LN10) < 0 ? '⁻' : '') + ['⁰','¹','²','³','⁴','⁵','⁶'][abs(round(log(datum.value)/LN10))] : ''"}},
        "y": {"field": "d", "type": "quantitative",
          "scale": {"domain": [6.344, 20], "reverse": true, "nice": false, "zero": false},
          "axis": {"title": "Depth (m)", "titleFontSize": 28, "titlePadding": 24, "labelFontSize": 25, "labelPadding": 4, "tickSize": 10,
            "values": [7,8,9,10,11,12,13,14,15,16,17,18,19,20],
            "labelExpr": "datum.value % 2 == 0 ? datum.label : ''"}},
        "color": {"field": "s", "type": "nominal", "title": null,
          "scale": {"domain": ["C", "H"], "range": ["#ff0000", "#000000"]},
          "legend": {"labelExpr": "datum.label == 'C' ? 'On the fly-CPT, Elseworth et al., (2005)' : 'HPT, Borden et al., (2021)'"}},
        "strokeDash": {"field": "s", "type": "nominal", "title": null,
          "scale": {"domain": ["C", "H"], "range": [[8, 5], [1, 0]]},
          "legend": {"labelExpr": "datum.label == 'C' ? 'On the fly-CPT, Elseworth et al., (2005)' : 'HPT, Borden et al., (2021)'"}},
        "detail": {"field": "g"},
        "order": {"value": null}
      }
    },
    {
      "width": 477, "height": 734,
      "transform": [{"filter": "datum.p == 'R'"}],
      "mark": {"type": "line", "strokeWidth": 1.3, "clip": true},
      "encoding": {
        "x": {"field": "k", "type": "quantitative",
          "scale": {"type": "log", "domain": [1e-6, 1], "nice": false},
          "axis": {"orient": "top", "title": "k (cm/s)", "titleFontSize": 30, "titlePadding": 25, "labelFontSize": 25, "labelPadding": 12, "labelFlush": false, "labelOverlap": false, "labelBound": false,
            "values": [1e-6,2e-6,3e-6,4e-6,5e-6,6e-6,7e-6,8e-6,9e-6,1e-5,2e-5,3e-5,4e-5,5e-5,6e-5,7e-5,8e-5,9e-5,1e-4,2e-4,3e-4,4e-4,5e-4,6e-4,7e-4,8e-4,9e-4,1e-3,2e-3,3e-3,4e-3,5e-3,6e-3,7e-3,8e-3,9e-3,1e-2,2e-2,3e-2,4e-2,5e-2,6e-2,7e-2,8e-2,9e-2,0.1,0.2,0.3,0.4,0.5,0.6,0.7,0.8,0.9,1],
            "tickSize": {"condition": {"test": "abs(log(datum.value)/LN10 - round(log(datum.value)/LN10)) < 0.001", "value": 12}, "value": 6},
            "labelExpr": "abs(log(datum.value)/LN10 - round(log(datum.value)/LN10)) < 0.001 ? '10' + (round(log(datum.value)/LN10) < 0 ? '⁻' : '') + ['⁰','¹','²','³','⁴','⁵','⁶'][abs(round(log(datum.value)/LN10))] : ''"}},
        "y": {"field": "d", "type": "quantitative",
          "scale": {"domain": [6.925, 21.135], "reverse": true, "nice": false, "zero": false},
          "axis": {"title": null, "labelFontSize": 25, "labelPadding": 4, "tickSize": 10,
            "values": [7,8,9,10,11,12,13,14,15,16,17,18,19,20,21],
            "labelExpr": "datum.value % 2 == 0 ? datum.label : ''"}},
        "color": {"field": "s", "type": "nominal", "title": null,
          "scale": {"domain": ["C", "H"], "range": ["#ff0000", "#000000"]},
          "legend": {"labelExpr": "datum.label == 'C' ? 'On the fly-CPT, Elseworth et al., (2005)' : 'HPT, Borden et al., (2021)'"}},
        "strokeDash": {"field": "s", "type": "nominal", "title": null,
          "scale": {"domain": ["C", "H"], "range": [[8, 5], [1, 0]]},
          "legend": {"labelExpr": "datum.label == 'C' ? 'On the fly-CPT, Elseworth et al., (2005)' : 'HPT, Borden et al., (2021)'"}},
        "detail": {"field": "g"},
        "order": {"value": null}
      }
    }
  ]
}
